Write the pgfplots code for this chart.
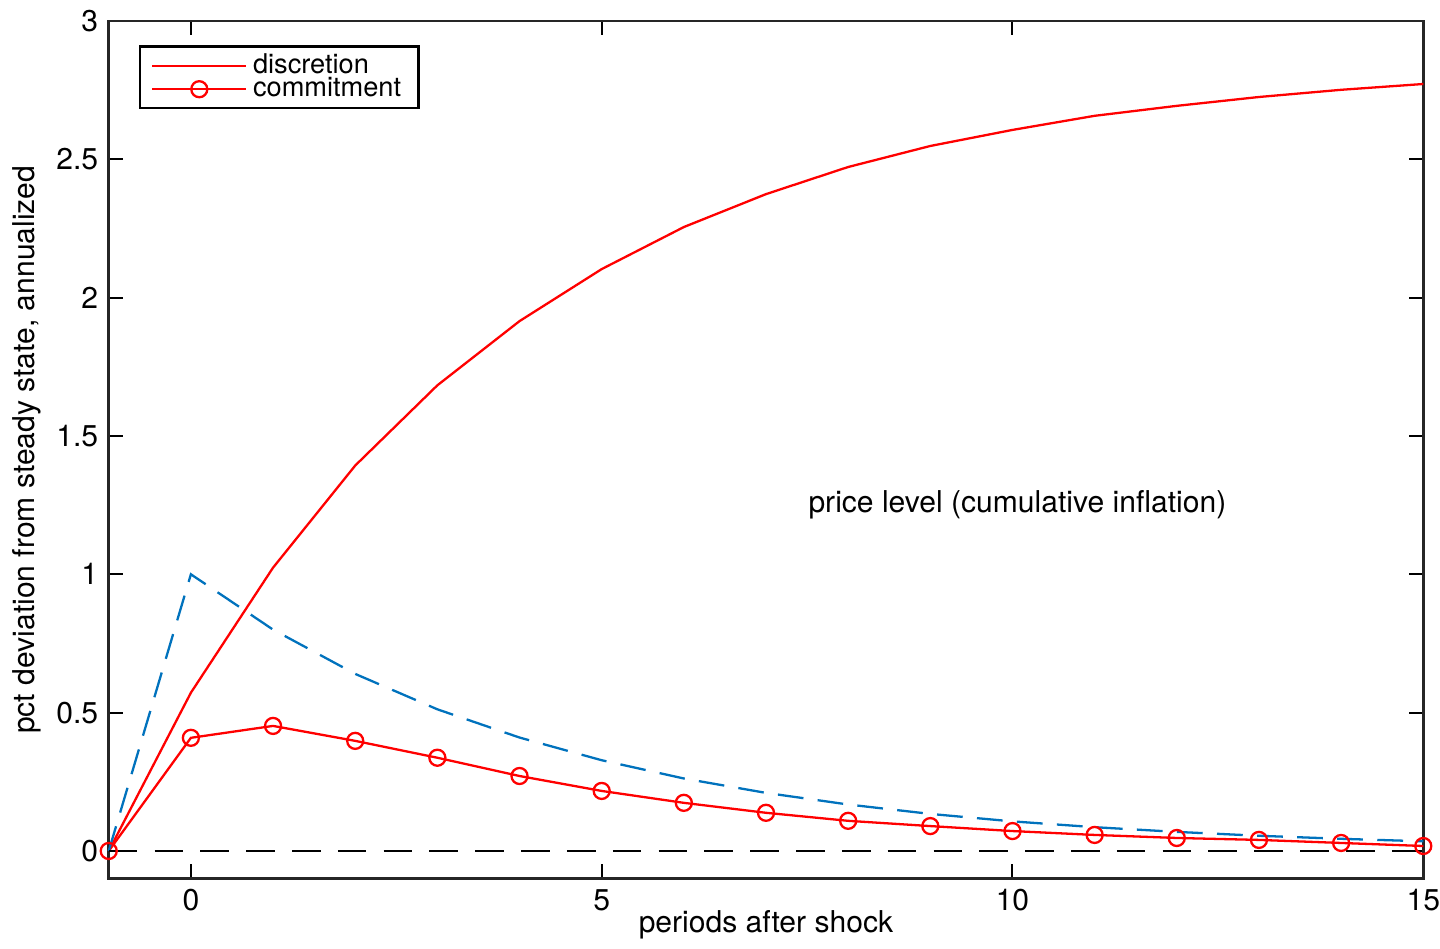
\documentclass[border={1pt 0pt 0pt 0pt}]{standalone}
\usepackage{pgfplots}
\pgfplotsset{compat=1.18}
\usepackage{fontspec}
\setmainfont{TeX Gyre Heros}
\definecolor{mblue}{rgb}{0,0.447,0.741}
\begin{document}
\fontsize{10.5}{12}\selectfont
\begin{tikzpicture}
\begin{axis}[
  scale only axis,
  width=459pt, height=299.5pt,
  xmin=-1, xmax=15, ymin=-0.1, ymax=3,
  xtick={0,5,10,15}, ytick={0,0.5,1,1.5,2,2.5,3},
  yticklabels={0,0.5,1,1.5,2,2.5,3},
  /pgf/number format/assume math mode=true,
  tick align=inside, major tick length=5pt,
  tick style={black, line width=0.7pt},
  axis line style={line width=0.9pt, black!85},
  xlabel={periods after shock}, ylabel={pct deviation from steady state, annualized},
  xlabel style={yshift=7.5pt}, ylabel style={yshift=-2pt},
  tick label style={font=\fontsize{10.5}{12}\selectfont},
  xticklabel style={inner xsep=0pt},
  label style={font=\fontsize{10.5}{12}\selectfont},
  clip=false,
  legend style={at={(rel axis cs:0.0228,0.9716)}, anchor=north west, draw=black, line width=0.8pt,
    font=\fontsize{9.5}{8}\selectfont, inner xsep=4pt, inner ysep=0.5pt, row sep=-4.2pt, cells={anchor=west}},
  legend cell align=left,
  legend image code/.code={\draw[#1, line width=0.8pt] (0cm,0cm) -- (1.15cm,0cm);
     \draw[#1, line width=0.8pt] plot coordinates {(0.575cm,0cm)};},
]
\addplot[red, line width=0.8pt] coordinates {
(-1,0) (0,0.572) (1,1.024) (2,1.393) (3,1.683) (4,1.915) (5,2.103) (6,2.255) (7,2.374) (8,2.472) (9,2.548) (10,2.606) (11,2.657) (12,2.693) (13,2.725) (14,2.751) (15,2.772)};
\addlegendentry{discretion}
\addplot[red, line width=0.8pt, mark=o, mark size=2.8pt] coordinates {
(-1,0) (0,0.409) (1,0.452) (2,0.398) (3,0.337) (4,0.271) (5,0.217) (6,0.174) (7,0.138) (8,0.109) (9,0.090) (10,0.072) (11,0.058) (12,0.047) (13,0.040) (14,0.029) (15,0.018)};
\addlegendentry{commitment}
\addplot[mblue, line width=0.8pt, dash pattern=on 9pt off 5pt, forget plot] coordinates {
(-1,0) (0,1.0) (1,0.8) (2,0.64) (3,0.512) (4,0.41) (5,0.328) (6,0.262) (7,0.21) (8,0.168) (9,0.134) (10,0.107) (11,0.086) (12,0.069) (13,0.055) (14,0.044) (15,0.035)};
\addplot[black, line width=0.8pt, dash pattern=on 10pt off 6pt, forget plot] coordinates {(-1,0) (15,0)};
\node[font=\fontsize{10.5}{12}\selectfont] at (axis cs:10.06,1.25) {price level (cumulative inflation)};
\end{axis}
\end{tikzpicture}
\end{document}
